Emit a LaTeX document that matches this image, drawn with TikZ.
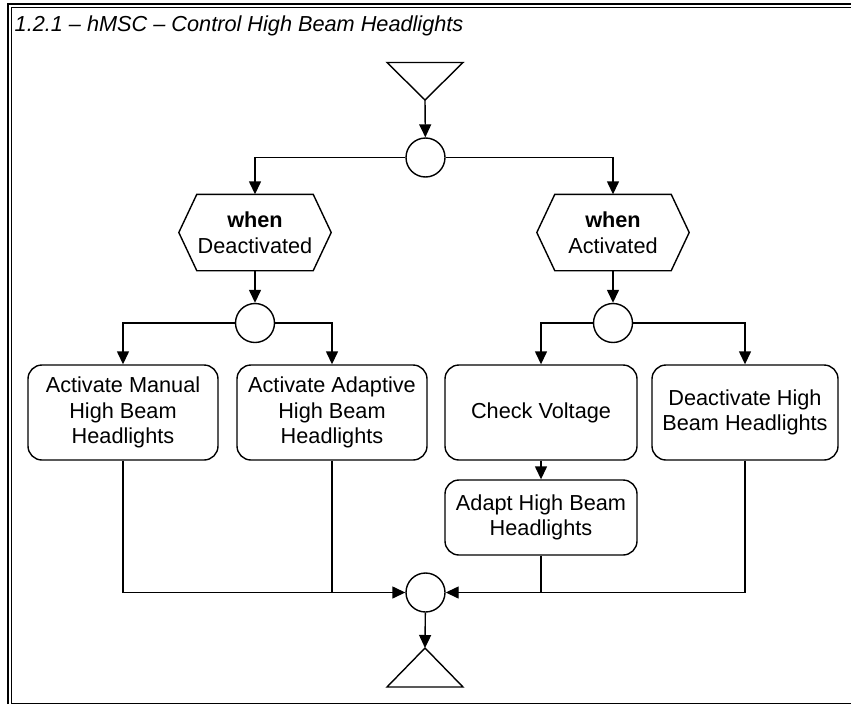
\documentclass[tikz,border=0pt]{standalone}
\usepackage{fontspec}
\setmainfont{Liberation Sans}
\usetikzlibrary{arrows.meta,positioning,calc}

\begin{document}
\begin{tikzpicture}[x=1pt, y=-1pt, line width=1.4pt,
every node/.style={font=\fontsize{21.7}{25.7}\selectfont},
action/.style={
% The shape:
rectangle, rounded corners=14pt,
% The size:
minimum width=190pt, minimum height=95pt, inner sep=0pt, align=center,
% The border:
draw=black
},
merge/.style={circle, draw=black, minimum size=39pt, inner sep=0pt},
guard/.style={minimum width=151pt, minimum height=75pt, inner sep=0pt, align=center},
flow/.style={-{Triangle[length=13pt,width=12pt]}}]

	\useasboundingbox (0,0) rectangle (851,704);

	% frame
	\draw[line width=2pt] (8,704) -- (8,4) -- (851,4);
	\draw[line width=1pt] (851,7.5) -- (11.5,7.5) -- (11.5,703) -- (851,703);
	\node (title) [anchor=base west, inner sep=0pt, font=\fontsize{21.7}{25.7}\selectfont\itshape] at (14,31.5) {1.2.1 -- hMSC -- Control High Beam Headlights};

	% start and end
	\coordinate (start) at (425,100);
	\draw (start) -- (387,62.5) -- (463,62.5) -- cycle;
	\coordinate (stop) at (425,648);
	\draw (stop) -- (387,687) -- (463,687) -- cycle;

	\node (split) [merge] at (425.5,157.5) {};
	\node (deact) [guard] at (255,232.5) {\textbf{when}\\Deactivated};
	\node (act) [guard] at (613,232.5) {\textbf{when}\\Activated};
	\foreach \g in {deact, act}
		\draw (\g.west) -- ([xshift=18pt]\g.north west) -- ([xshift=-18pt]\g.north east)
			-- (\g.east) -- ([xshift=-18pt]\g.south east) -- ([xshift=18pt]\g.south west) -- cycle;

	\node (splitL) [merge] at (255,323) {};
	\node (splitR) [merge] at (613,323) {};

	\node (manual) [action] at (123,412.5) {Activate Manual\\High Beam\\Headlights};
	\node (adaptive) [action] at (332,412.5) {Activate Adaptive\\High Beam\\Headlights};
	\node (check) [action, minimum width=192pt] at (541,412.5) {Check Voltage};
	\node (deacthb) [action, minimum width=186pt] at (745,412.5) {Deactivate High\\Beam Headlights};
	\node (adapt) [action, minimum width=192pt, minimum height=75pt] at (541,517.5) {Adapt High Beam\\Headlights};

	\node (join) [merge] at (425.5,592.5) {};

	% connectors
	\draw[flow] (start) -- (split);
	\draw[flow] (split.west) -| (deact.north);
	\draw[flow] (split.east) -| (act.north);
	\draw[flow] (deact) -- (splitL);
	\draw[flow] (act) -- (splitR);
	\draw[flow] (splitL.west) -| (manual.north);
	\draw[flow] (splitL.east) -| (adaptive.north);
	\draw[flow] (splitR.west) -| (check.north);
	\draw[flow] (splitR.east) -| (deacthb.north);
	\draw[flow] (check) -- (adapt);
	\draw[flow] (manual.south) |- (join.west);
	\draw (adaptive.south) -- (adaptive.south |- join.west);
	\draw[flow] (deacthb.south) |- (join.east);
	\draw (adapt.south) -- (adapt.south |- join.east);
	\draw[flow] (join) -- (stop);
\end{tikzpicture}
\end{document}
